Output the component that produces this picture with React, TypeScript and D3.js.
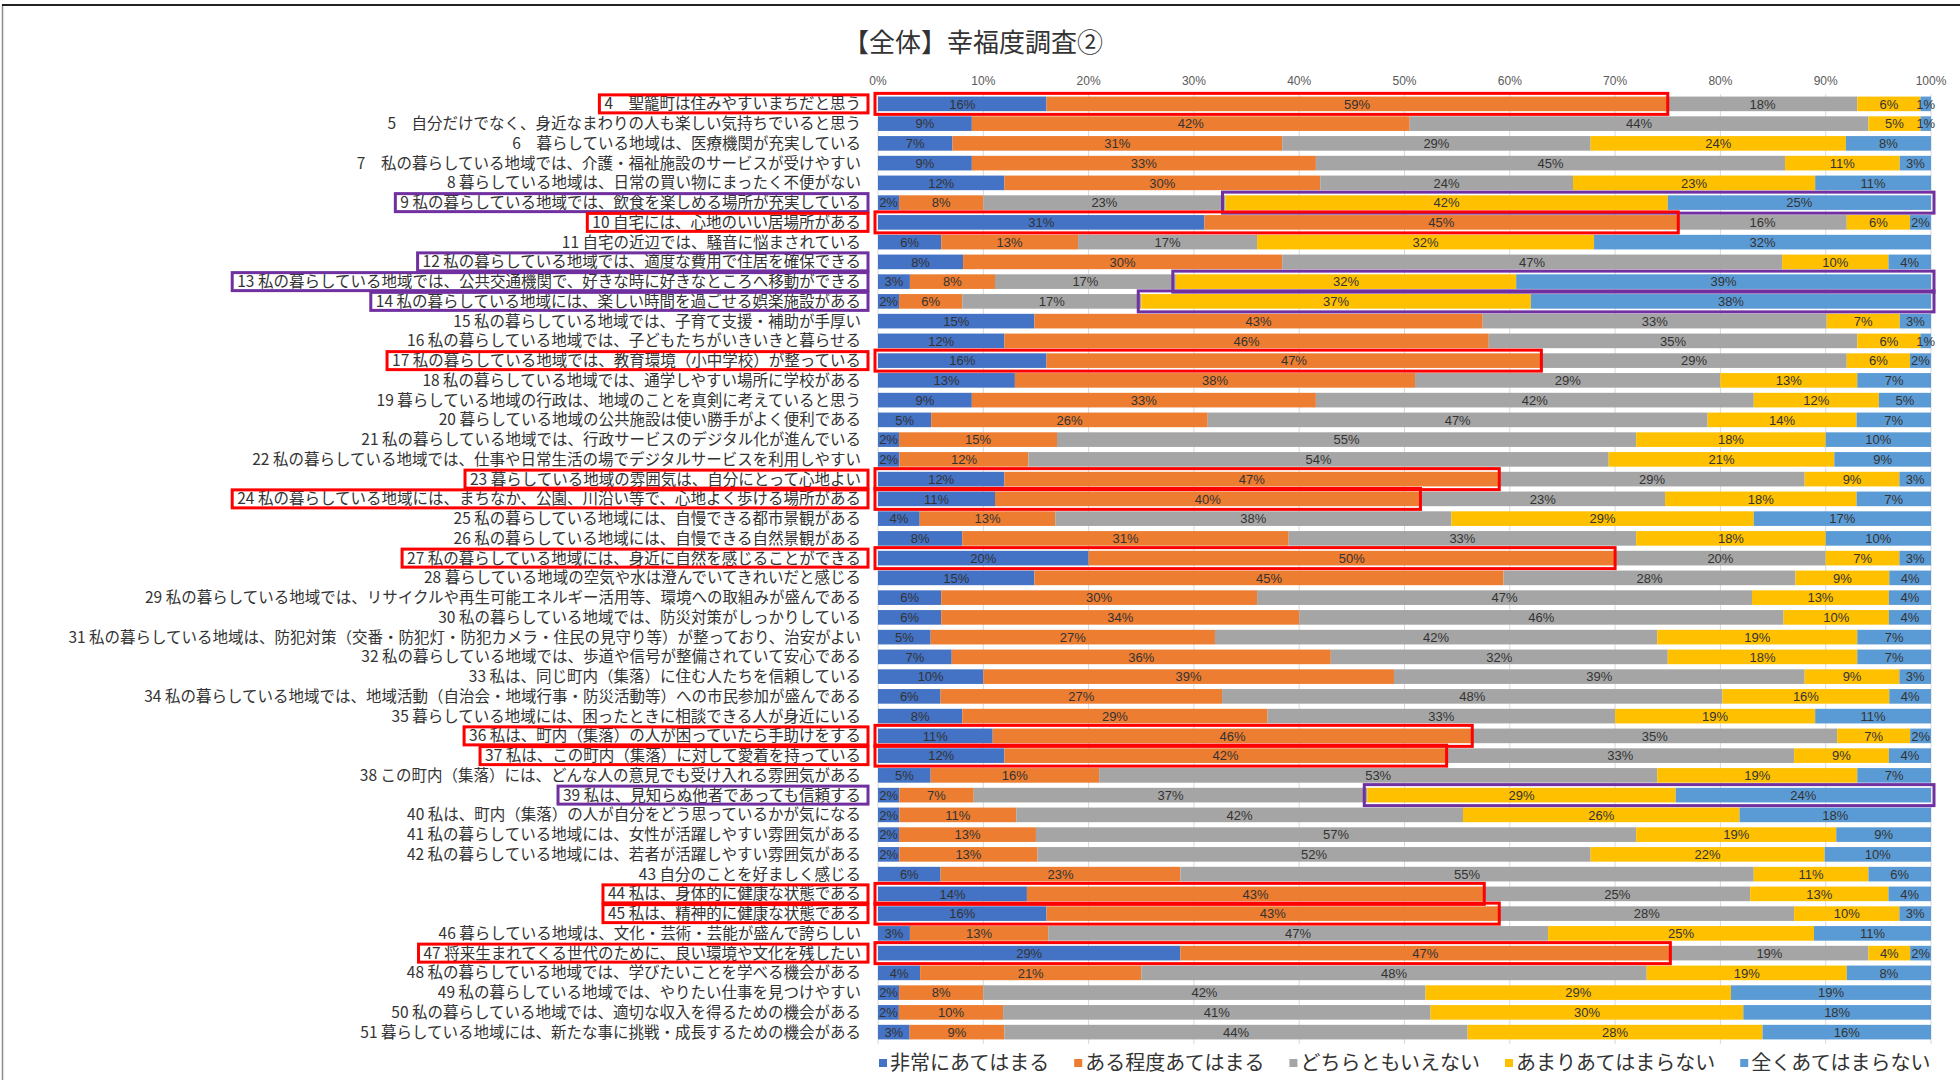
import { useEffect, useRef } from "react";
import * as d3 from "d3";

// 設問（表示順）
const questions = [
  "4　聖籠町は住みやすいまちだと思う",
  "5　自分だけでなく、身近なまわりの人も楽しい気持ちでいると思う",
  "6　暮らしている地域は、医療機関が充実している",
  "7　私の暮らしている地域では、介護・福祉施設のサービスが受けやすい",
  "8 暮らしている地域は、日常の買い物にまったく不便がない",
  "9 私の暮らしている地域では、飲食を楽しめる場所が充実している",
  "10 自宅には、心地のいい居場所がある",
  "11 自宅の近辺では、騒音に悩まされている",
  "12 私の暮らしている地域では、適度な費用で住居を確保できる",
  "13 私の暮らしている地域では、公共交通機関で、好きな時に好きなところへ移動ができる",
  "14 私の暮らしている地域には、楽しい時間を過ごせる娯楽施設がある",
  "15 私の暮らしている地域では、子育て支援・補助が手厚い",
  "16 私の暮らしている地域では、子どもたちがいきいきと暮らせる",
  "17 私の暮らしている地域では、教育環境（小中学校）が整っている",
  "18 私の暮らしている地域では、通学しやすい場所に学校がある",
  "19 暮らしている地域の行政は、地域のことを真剣に考えていると思う",
  "20 暮らしている地域の公共施設は使い勝手がよく便利である",
  "21 私の暮らしている地域では、行政サービスのデジタル化が進んでいる",
  "22 私の暮らしている地域では、仕事や日常生活の場でデジタルサービスを利用しやすい",
  "23 暮らしている地域の雰囲気は、自分にとって心地よい",
  "24 私の暮らしている地域には、まちなか、公園、川沿い等で、心地よく歩ける場所がある",
  "25 私の暮らしている地域には、自慢できる都市景観がある",
  "26 私の暮らしている地域には、自慢できる自然景観がある",
  "27 私の暮らしている地域には、身近に自然を感じることができる",
  "28 暮らしている地域の空気や水は澄んでいてきれいだと感じる",
  "29 私の暮らしている地域では、リサイクルや再生可能エネルギー活用等、環境への取組みが盛んである",
  "30 私の暮らしている地域では、防災対策がしっかりしている",
  "31 私の暮らしている地域は、防犯対策（交番・防犯灯・防犯カメラ・住民の見守り等）が整っており、治安がよい",
  "32 私の暮らしている地域では、歩道や信号が整備されていて安心である",
  "33 私は、同じ町内（集落）に住む人たちを信頼している",
  "34 私の暮らしている地域では、地域活動（自治会・地域行事・防災活動等）への市民参加が盛んである",
  "35 暮らしている地域には、困ったときに相談できる人が身近にいる",
  "36 私は、町内（集落）の人が困っていたら手助けをする",
  "37 私は、この町内（集落）に対して愛着を持っている",
  "38 この町内（集落）には、どんな人の意見でも受け入れる雰囲気がある",
  "39 私は、見知らぬ他者であっても信頼する",
  "40 私は、町内（集落）の人が自分をどう思っているかが気になる",
  "41 私の暮らしている地域には、女性が活躍しやすい雰囲気がある",
  "42 私の暮らしている地域には、若者が活躍しやすい雰囲気がある",
  "43 自分のことを好ましく感じる",
  "44 私は、身体的に健康な状態である",
  "45 私は、精神的に健康な状態である",
  "46 暮らしている地域は、文化・芸術・芸能が盛んで誇らしい",
  "47 将来生まれてくる世代のために、良い環境や文化を残したい",
  "48 私の暮らしている地域では、学びたいことを学べる機会がある",
  "49 私の暮らしている地域では、やりたい仕事を見つけやすい",
  "50 私の暮らしている地域では、適切な収入を得るための機会がある",
  "51 暮らしている地域には、新たな事に挑戦・成長するための機会がある",
];

// 回答割合（%）
const veryTrue = [16, 9, 7, 9, 12, 2, 31, 6, 8, 3, 2, 15, 12, 16, 13, 9, 5, 2, 2, 12, 11, 4, 8, 20, 15, 6, 6, 5, 7, 10, 6, 8, 11, 12, 5, 2, 2, 2, 2, 6, 14, 16, 3, 29, 4, 2, 2, 3];
const somewhatTrue = [59, 42, 31, 33, 30, 8, 45, 13, 30, 8, 6, 43, 46, 47, 38, 33, 26, 15, 12, 47, 40, 13, 31, 50, 45, 30, 34, 27, 36, 39, 27, 29, 46, 42, 16, 7, 11, 13, 13, 23, 43, 43, 13, 47, 21, 8, 10, 9];
const neither = [18, 44, 29, 45, 24, 23, 16, 17, 47, 17, 17, 33, 35, 29, 29, 42, 47, 55, 54, 29, 23, 38, 33, 20, 28, 47, 46, 42, 32, 39, 48, 33, 35, 33, 53, 37, 42, 57, 52, 55, 25, 28, 47, 19, 48, 42, 41, 44];
const notMuch = [6, 5, 24, 11, 23, 42, 6, 32, 10, 32, 37, 7, 6, 6, 13, 12, 14, 18, 21, 9, 18, 29, 18, 7, 9, 13, 10, 19, 18, 9, 16, 19, 7, 9, 19, 29, 26, 19, 22, 11, 13, 10, 25, 4, 19, 29, 30, 28];
const notAtAll = [1, 1, 8, 3, 11, 25, 2, 32, 4, 39, 38, 3, 1, 2, 7, 5, 7, 10, 9, 3, 7, 17, 10, 3, 4, 4, 4, 7, 7, 3, 4, 11, 2, 4, 7, 24, 18, 9, 10, 6, 4, 3, 11, 2, 8, 19, 18, 16];

const responseTypes = ["非常にあてはまる", "ある程度あてはまる", "どちらともいえない", "あまりあてはまらない", "全くあてはまらない"];
const colors = ["#4472C4", "#ED7D31", "#A5A5A5", "#FFC000", "#5B9BD5"];
const tickValues = [0, 10, 20, 30, 40, 50, 60, 70, 80, 90, 100];

// 強調枠（設問番号）
const redQuestions = [4, 10, 17, 23, 24, 27, 36, 37, 44, 45, 47];
const purpleQuestions = [9, 13, 14, 39];
const purpleLabelOnly = [12];

export default function App() {
  const ref = useRef<SVGSVGElement>(null);

  useEffect(() => {
    const svg = d3.select(ref.current);
    svg.selectAll("*").remove();

    const series = [veryTrue, somewhatTrue, neither, notMuch, notAtAll];
    const keys = responseTypes;
    const rows = questions.map((q, i) => {
      const r: any = { q };
      keys.forEach((k, j) => (r[k] = series[j][i]));
      return r;
    });

    const x = d3.scaleLinear().domain([0, 1]).range([878, 1931]);
    const y = d3.scaleBand().domain(questions).range([94, 1042]).paddingInner(0.26).paddingOuter(0.13);
    const color = d3.scaleOrdinal<string>().domain(keys).range(colors);
    const stacked = d3.stack<any>().keys(keys).offset(d3.stackOffsetExpand)(rows);
    const qNo = (q: string) => parseInt(q, 10);
    const cy = (q: string) => (y(q) as number) + y.bandwidth() / 2;

    // frame
    svg.append("rect").attr("x", 0).attr("y", 0).attr("width", 1960).attr("height", 1080).attr("fill", "#fff");
    svg.append("line").attr("x1", 2.5).attr("x2", 2.5).attr("y1", 5).attr("y2", 1080).attr("stroke", "#8c8c8c").attr("stroke-width", 1.5);
    svg.append("line").attr("x1", 2).attr("x2", 1960).attr("y1", 5).attr("y2", 5).attr("stroke", "#222").attr("stroke-width", 2);

    // title
    svg.append("text")
      .attr("x", 973).attr("y", 52)
      .attr("text-anchor", "middle")
      .attr("font-family", "'Noto Sans CJK JP', sans-serif")
      .attr("font-size", 26)
      .attr("fill", "#333")
      .text("【全体】幸福度調査②");

    // grid + top axis
    svg.append("g").selectAll("line").data(tickValues).join("line")
      .attr("x1", (d) => x(d / 100)).attr("x2", (d) => x(d / 100))
      .attr("y1", 94).attr("y2", 1044)
      .attr("stroke", "#d9d9d9").attr("stroke-width", 1);
    svg.append("g").selectAll("text").data(tickValues).join("text")
      .attr("x", (d) => x(d / 100)).attr("y", 85)
      .attr("text-anchor", "middle")
      .attr("font-family", "'Liberation Sans Narrow', 'Liberation Sans', sans-serif")
      .attr("font-size", 12)
      .attr("fill", "#595959")
      .text((d) => d + "%");

    // bars
    const layer = svg.append("g").selectAll("g").data(stacked).join("g").attr("fill", (d) => color(d.key));
    layer.selectAll("rect").data((d) => d).join("rect")
      .attr("x", (d) => x(d[0]))
      .attr("width", (d) => x(d[1]) - x(d[0]))
      .attr("y", (d) => y(d.data.q) as number)
      .attr("height", y.bandwidth());

    // value labels
    const vl = svg.append("g")
      .attr("font-family", "'Liberation Sans Narrow', 'Liberation Sans', sans-serif")
      .attr("font-size", 13)
      .attr("fill", "#333")
      .attr("text-anchor", "middle");
    stacked.forEach((s) => {
      vl.append("g").selectAll("text").data(s).join("text")
        .attr("x", (d) => (x(d[0]) + x(d[1])) / 2)
        .attr("y", (d) => cy(d.data.q))
        .attr("dy", "0.36em")
        .text((d) => d.data[s.key] + "%");
    });

    // category labels
    const labels = svg.append("g")
      .attr("font-family", "'Noto Sans CJK JP', sans-serif")
      .attr("font-size", 15.5)
      .attr("fill", "#333")
      .attr("text-anchor", "end");
    labels.selectAll("text").data(questions).join("text")
      .attr("x", 861)
      .attr("y", (d) => cy(d))
      .attr("dy", "0.35em")
      .text((d) => d);

    // highlight boxes
    const boxes = svg.append("g").attr("fill", "none").attr("stroke-width", 3);
    labels.selectAll<SVGTextElement, string>("text").each(function (d) {
      const n = qNo(d);
      let stroke = "";
      if (redQuestions.includes(n)) stroke = "#FF0000";
      if (purpleQuestions.includes(n) || purpleLabelOnly.includes(n)) stroke = "#7030A0";
      if (!stroke) return;
      const bb = this.getBBox();
      boxes.append("rect")
        .attr("x", bb.x - 5).attr("y", cy(d) - 9)
        .attr("width", 868 - bb.x + 5).attr("height", 18)
        .attr("stroke", stroke);
    });
    rows.forEach((r, i) => {
      const n = qNo(r.q);
      if (redQuestions.includes(n)) {
        const x0 = x(stacked[0][i][0]);
        const x1 = x(stacked[1][i][1]);
        boxes.append("rect")
          .attr("x", x0 - 3).attr("y", cy(r.q) - 10.5)
          .attr("width", x1 - x0 + 3).attr("height", 21)
          .attr("stroke", "#FF0000");
      }
      if (purpleQuestions.includes(n)) {
        const x0 = x(stacked[3][i][0]);
        const x1 = x(stacked[4][i][1]);
        boxes.append("rect")
          .attr("x", x0 - 3).attr("y", cy(r.q) - 10.5)
          .attr("width", x1 - x0 + 6).attr("height", 21)
          .attr("stroke", "#7030A0");
      }
    });

    // legend, laid out one item after the other
    const legend = svg.append("g").attr("transform", "translate(0,1063)");
    let lx = 879;
    keys.forEach((k) => {
      legend.append("rect").attr("x", lx).attr("y", -4).attr("width", 8).attr("height", 8).attr("fill", color(k));
      const t = legend.append("text")
        .attr("x", lx + 11).attr("dy", "0.36em")
        .attr("font-family", "'Noto Sans CJK JP', sans-serif")
        .attr("font-size", 20)
        .attr("fill", "#333")
        .text(k);
      lx += 11 + (t.node() as SVGTextElement).getComputedTextLength() + 25;
    });
  }, []);

  return (
    <svg
      ref={ref}
      width={1960}
      height={1080}
      style={{ position: "absolute", left: 0, top: 0, background: "#fff" }}
    />
  );
}
